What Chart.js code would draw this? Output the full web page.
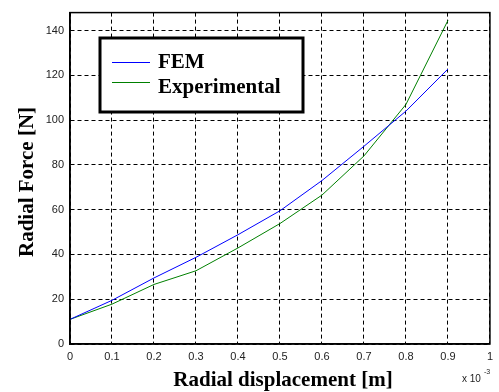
<!DOCTYPE html>
<html>
<head>
<meta charset="utf-8">
<script src="https://cdn.jsdelivr.net/npm/chart.js@4/dist/chart.umd.min.js"></script>
<style>
  html, body { margin: 0; padding: 0; background: #fff; }
  #wrap { width: 499px; height: 392px; }
</style>
</head>
<body>
<div id="wrap"><canvas id="c" width="499" height="392"></canvas></div>
<script>
// displacement (x 10^-3 m)
const displacement = [0, 0.1, 0.2, 0.3, 0.4, 0.5, 0.6, 0.7, 0.8, 0.9];
const femForce = [11, 19.5, 29.5, 38.7, 48.8, 59.5, 73, 88.3, 104, 122.8];
const expForce = [11, 17.8, 26.6, 32.7, 42.9, 53.8, 66.5, 84, 107, 144.5];
const xTicks = [0, 0.1, 0.2, 0.3, 0.4, 0.5, 0.6, 0.7, 0.8, 0.9, 1];
const yTicks = [0, 20, 40, 60, 80, 100, 120, 140];
const seriesNames = ['FEM', 'Experimental'];
const seriesColors = ['#0000ff', '#008000'];

const serif = '"Liberation Serif", "Times New Roman", serif';

const decorations = {
    id: 'decorations',
    afterDraw(chart) {
        const ctx = chart.ctx;
        const a = chart.chartArea;
        ctx.save();
        // plot box
        ctx.strokeStyle = '#000';
        ctx.lineWidth = 1.5;
        ctx.strokeRect(a.left, a.top, a.right - a.left, a.bottom - a.top);

        // legend box
        ctx.fillStyle = '#fff';
        ctx.fillRect(100, 38, 203, 74);
        ctx.lineWidth = 3;
        ctx.strokeRect(100, 38, 203, 74);
        ctx.lineWidth = 1;
        ctx.font = 'bold 21px ' + serif;
        ctx.textBaseline = 'alphabetic';
        ctx.textAlign = 'left';
        seriesNames.forEach((name, i) => {
            const y = 62 + i * 20;
            ctx.strokeStyle = seriesColors[i];
            ctx.beginPath();
            ctx.moveTo(112, y + 0.5);
            ctx.lineTo(150, y + 0.5);
            ctx.stroke();
            ctx.fillStyle = '#000';
            ctx.fillText(name, 158, y + 6 + i * 5);
        });

        // axis titles
        ctx.fillStyle = '#000';
        ctx.font = 'bold 21px ' + serif;
        ctx.textAlign = 'center';
        ctx.fillText('Radial displacement [m]', 283, 386);
        ctx.save();
        ctx.translate(33, 182);
        ctx.rotate(-Math.PI / 2);
        ctx.fillText('Radial Force [N]', 0, 0);
        ctx.restore();

        // exponent
        ctx.font = '10px "Liberation Sans", Arial, sans-serif';
        ctx.fillStyle = '#222';
        ctx.textAlign = 'left';
        ctx.fillText('x 10', 462, 382);
        ctx.font = '7px "Liberation Sans", Arial, sans-serif';
        ctx.fillText('-3', 484, 374);
        ctx.restore();
    }
};

new Chart(document.getElementById('c'), {
    type: 'line',
    data: {
        datasets: [
            {
                label: seriesNames[0],
                data: displacement.map((x, i) => ({ x: x, y: femForce[i] })),
                borderColor: seriesColors[0],
                borderWidth: 1,
                pointRadius: 0,
                tension: 0
            },
            {
                label: seriesNames[1],
                data: displacement.map((x, i) => ({ x: x, y: expForce[i] })),
                borderColor: seriesColors[1],
                borderWidth: 1,
                pointRadius: 0,
                tension: 0
            }
        ]
    },
    options: {
        responsive: false,
        animation: false,
        devicePixelRatio: 1,
        layout: { padding: { top: 11, right: 6, left: 0, bottom: 0 } },
        plugins: { legend: { display: false }, tooltip: { enabled: false } },
        scales: {
            x: {
                type: 'linear',
                min: 0,
                max: 1,
                afterBuildTicks: s => { s.ticks = xTicks.map(v => ({ value: v })); },
                afterFit: s => { s.height = 48; },
                grid: { color: '#000', lineWidth: 1, drawTicks: false },
                border: { display: true, color: '#000', width: 1.5, dash: [4, 3] },
                ticks: {
                    padding: 6,
                    color: '#222',
                    maxRotation: 0,
                    font: { family: '"Liberation Sans", Arial, sans-serif', size: 11 },
                    callback: v => String(v)
                }
            },
            y: {
                type: 'linear',
                min: 0,
                max: 148,
                afterBuildTicks: s => { s.ticks = yTicks.map(v => ({ value: v })); },
                afterFit: s => { s.width = 70; },
                grid: { color: '#000', lineWidth: 1, drawTicks: false },
                border: { display: true, color: '#000', width: 1.5, dash: [4, 3] },
                ticks: {
                    padding: 6,
                    color: '#222',
                    font: { family: '"Liberation Sans", Arial, sans-serif', size: 11 }
                }
            }
        }
    },
    plugins: [decorations]
});
</script>
</body>
</html>
